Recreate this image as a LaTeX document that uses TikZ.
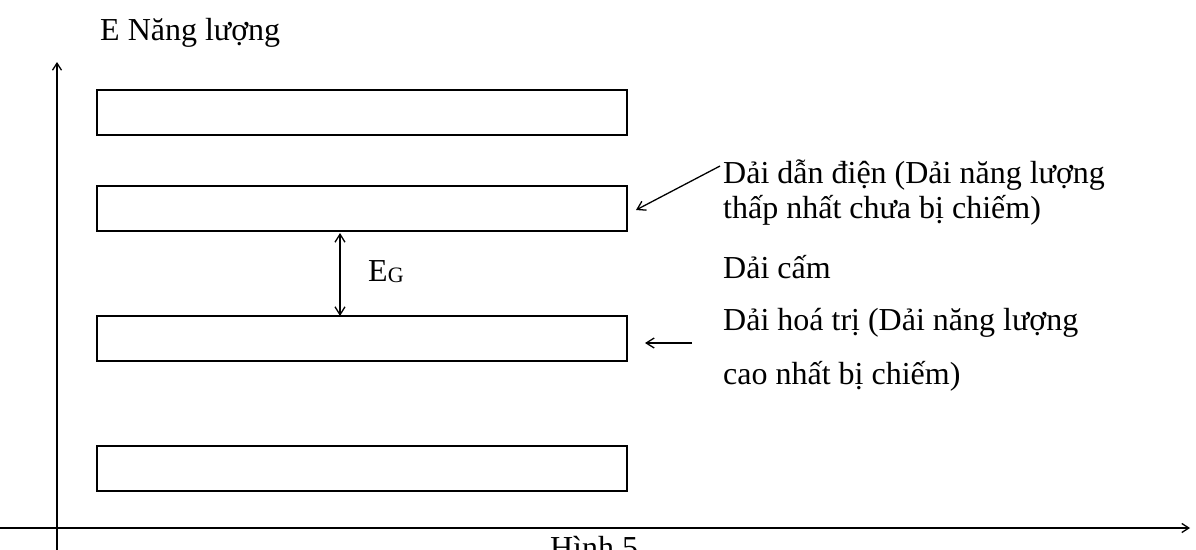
\documentclass[tikz,border=0pt]{standalone}
\usepackage{fontspec}
\setmainfont{Liberation Serif}
\usetikzlibrary{arrows.meta}
\begin{document}
\begin{tikzpicture}[x=1pt,y=-1pt,
  band/.style={draw,line width=2pt,minimum width=530pt,minimum height=45pt,inner sep=0pt,outer sep=0pt},
  axis/.style={line width=1.3pt,-{Straight Barb[length=7pt,width=9pt]}},
  lbl/.style={anchor=base west,inner sep=0pt,font=\fontsize{32}{38}\selectfont},
  pointer/.style={line width=1.3pt,-{Straight Barb[length=8pt,width=10pt]}}]
\useasboundingbox (0,0) rectangle (1196,549);
% axes
\coordinate (yb) at (57,560);
\coordinate (yt) at (57,62);
\coordinate (xl) at (0,528);
\coordinate (xr) at (1190,528);
\draw[axis] (yb) -- (yt);
\draw[axis] (xl) -- (xr);
% bands
\node[band] (b1) at (362,112.5) {};
\node[band] (b2) at (362,208.5) {};
\node[band] (b3) at (362,338) {};
\node[band] (b4) at (362,468.5) {};
% gap
\coordinate (g1) at (340,233);
\coordinate (g2) at (340,316);
\draw[line width=1.3pt,{Straight Barb[length=8pt,width=10pt]}-{Straight Barb[length=8pt,width=10pt]}] (g1) -- (g2);
\node[lbl] (eg) at (368,281) {E\raisebox{-0.1ex}{\fontsize{22}{26}\selectfont G}};
% labels
\node[lbl] (t0) at (100,40) {E Năng lượng};
\node[lbl] (t1) at (723,183) {Dải dẫn điện (Dải năng lượng};
\node[lbl] (t2) at (723,218) {thấp nhất chưa bị chiếm)};
\node[lbl] (t3) at (723,278) {Dải cấm};
\node[lbl] (t4) at (723,330) {Dải hoá trị (Dải năng lượng};
\node[lbl] (t5) at (723,384) {cao nhất bị chiếm)};
\node[lbl,anchor=base] (cap) at (594,558) {Hình 5};
% pointers
\coordinate (p1s) at (720,166);
\coordinate (p1e) at (636,210);
\draw[pointer] (p1s) -- (p1e);
\coordinate (p2s) at (692,343);
\coordinate (p2e) at (645,343);
\draw[pointer] (p2s) -- (p2e);
\end{tikzpicture}
\end{document}
